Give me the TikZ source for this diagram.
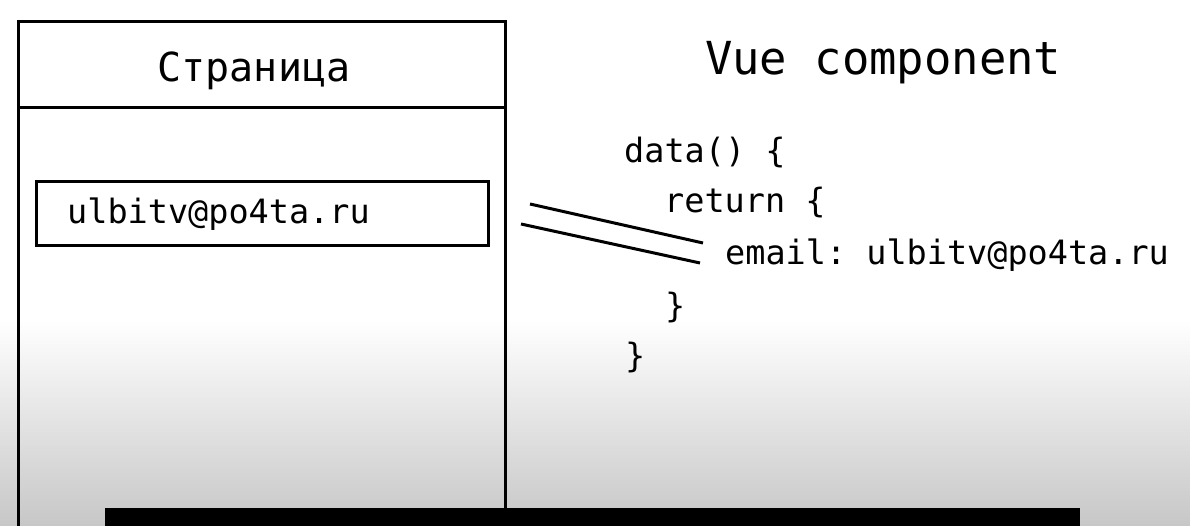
\documentclass[tikz,border=0pt]{standalone}
\usepackage{fontspec}
\setmonofont{DejaVu Sans Mono}
\begin{document}
\begin{tikzpicture}[x=1pt, y=-1pt,
    frame/.style={line width=3pt},
    code/.style={anchor=base west, inner sep=0pt, font=\ttfamily\fontsize{33.5}{33.5}\selectfont},
    heading/.style={inner sep=0pt, font=\ttfamily\fontsize{40}{40}\selectfont}]
    \useasboundingbox (0, 0) rectangle (1190, 526);
    \fill[white] (0, 0) rectangle (1190, 526);
    \shade[top color=white, bottom color=black!22] (0, 320) rectangle (1190, 526);

    % page
    \draw[frame] (18, 526) -- (18, 22) -- (505, 22) -- (505, 508);
    \draw[frame] (18, 108) -- (505, 108);
    \draw[frame] (36, 182) rectangle (488, 246);
    \path (254, 82)  node[heading, anchor=base](page)  {Страница};
    \path (67, 224)  node[code](field) {ulbitv@po4ta.ru};

    % component
    \path (705, 75)  node[heading, anchor=base west, font=\ttfamily\fontsize{45.5}{45.5}\selectfont](vue) {Vue component};
    \path (624, 163) node[code](c1) {data() \{};
    \path (664, 213) node[code](c2) {return \{};
    \path (725, 265) node[code](c3) {email: ulbitv@po4ta.ru};
    \path (665, 317) node[code](c4) {\}};
    \path (625, 367) node[code](c5) {\}};

    % binding
    \coordinate (a1) at (530, 204);
    \coordinate (b1) at (703, 243);
    \coordinate (a2) at (521, 224);
    \coordinate (b2) at (700, 263);
    \draw[frame] (a1) -- (b1);
    \draw[frame] (a2) -- (b2);

    \fill (105, 508) rectangle (1080, 526);
\end{tikzpicture}
\end{document}
